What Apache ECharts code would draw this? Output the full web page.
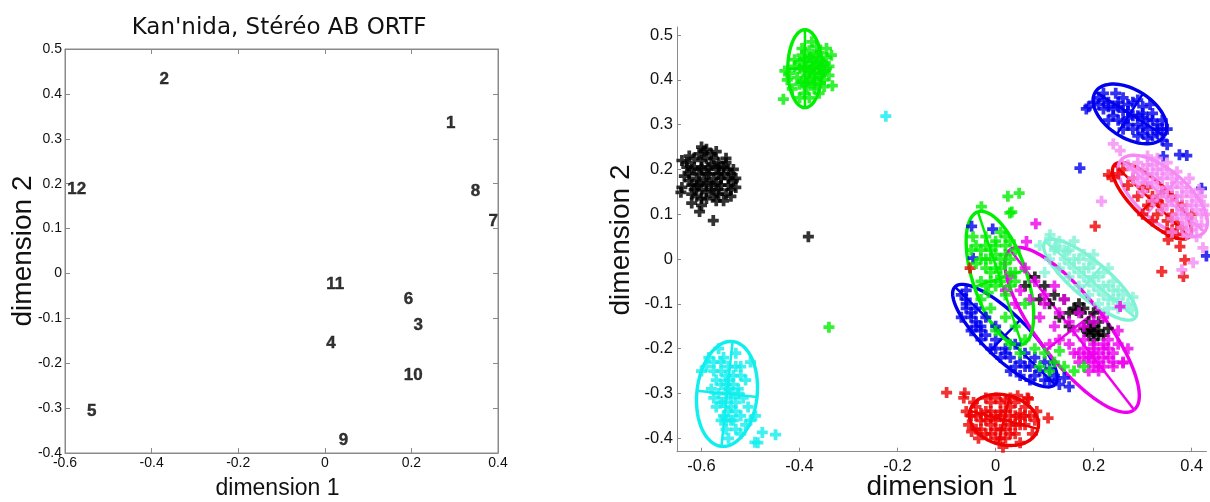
<!DOCTYPE html>
<html><head><meta charset="utf-8">
<script src="https://cdn.jsdelivr.net/npm/echarts@6/dist/echarts.min.js"></script>
<style>html,body{margin:0;padding:0;background:#fff}#c{width:1210px;height:502px}</style>
</head><body><div id="c"></div>
<script>
// ---------- Left panel: labelled configuration ----------
const leftNames = ['1','2','3','4','5','6','7','8','9','10','11','12'];
const leftDim1 = [0.291,-0.371,0.216,0.014,-0.538,0.193,0.389,0.348,0.043,0.204,0.024,-0.573];
const leftDim2 = [0.335,0.432,-0.116,-0.155,-0.307,-0.058,0.116,0.183,-0.372,-0.228,-0.025,0.187];

// ---------- Right panel: clouds of points (dimension 1, dimension 2) ----------
const blackLeft = [[-0.585,0.19],[-0.6,0.2],[-0.57,0.2],[-0.61,0.18],[-0.56,0.18],[-0.59,0.17],[-0.62,0.2],[-0.6,0.22],[-0.575,0.225],[-0.555,0.205],[-0.54,0.19],[-0.545,0.165],[-0.565,0.155],[-0.59,0.15],[-0.615,0.155],[-0.625,0.175],[-0.63,0.205],[-0.615,0.225],[-0.595,0.24],[-0.57,0.24],[-0.55,0.225],[-0.535,0.175],[-0.53,0.16],[-0.55,0.145],[-0.575,0.14],[-0.6,0.135],[-0.605,0.165],[-0.58,0.165],[-0.565,0.19],[-0.6,0.205],[-0.58,0.21],[-0.61,0.14],[-0.62,0.125],[-0.64,0.22],[-0.6,0.25],[-0.59,0.245],[-0.642,0.149],[-0.604,0.106],[-0.576,0.086],[-0.6,0.12],[-0.53,0.18],[-0.545,0.2],[-0.635,0.185],[-0.64,0.16],[-0.62,0.145],[-0.382,0.05],
  [-0.59,0.19],[-0.575,0.18],[-0.595,0.175],[-0.585,0.205],[-0.605,0.19],[-0.565,0.205],[-0.57,0.17],[-0.555,0.19],[-0.615,0.205],[-0.61,0.165],[-0.58,0.155],[-0.6,0.155],[-0.56,0.165],[-0.545,0.18],[-0.59,0.225],[-0.605,0.235],[-0.58,0.235],[-0.565,0.215],[-0.625,0.19],[-0.62,0.165],[-0.59,0.135],[-0.565,0.145],[-0.54,0.155],[-0.535,0.2],[-0.55,0.215],[-0.63,0.215],[-0.57,0.13],[-0.555,0.13],[-0.54,0.14],[-0.625,0.23]];
const greenTop = [[-0.39,0.42],[-0.37,0.43],[-0.38,0.40],[-0.36,0.41],[-0.4,0.44],[-0.375,0.45],[-0.355,0.44],[-0.35,0.42],[-0.365,0.395],[-0.385,0.385],[-0.405,0.405],[-0.41,0.43],[-0.395,0.455],[-0.38,0.465],[-0.36,0.46],[-0.345,0.45],[-0.34,0.43],[-0.35,0.40],[-0.37,0.38],[-0.39,0.37],[-0.4,0.39],[-0.42,0.415],[-0.425,0.4],[-0.385,0.43],[-0.37,0.415],[-0.355,0.43],[-0.395,0.47],[-0.365,0.475],[-0.345,0.47],[-0.335,0.455],[-0.38,0.36],[-0.36,0.37],[-0.415,0.38],[-0.433,0.357],[-0.333,0.387],[-0.375,0.485],[-0.4,0.36],[-0.35,0.385],[-0.34,0.41],[-0.43,0.42],[-0.34,-0.152],
  [-0.38,0.42],[-0.39,0.43],[-0.37,0.405],[-0.36,0.425],[-0.375,0.44],[-0.385,0.41],[-0.395,0.395],[-0.365,0.455],[-0.35,0.435],[-0.38,0.45],[-0.39,0.445],[-0.37,0.39],[-0.355,0.415],[-0.4,0.425],[-0.41,0.445],[-0.345,0.425],[-0.36,0.445],[-0.385,0.395],[-0.375,0.425],[-0.365,0.435]];
const cyanLeft = [[-0.55,-0.28],[-0.54,-0.3],[-0.555,-0.32],[-0.545,-0.34],[-0.535,-0.26],[-0.56,-0.25],[-0.57,-0.27],[-0.575,-0.23],[-0.555,-0.22],[-0.565,-0.2],[-0.59,-0.24],[-0.6,-0.25],[-0.585,-0.22],[-0.52,-0.24],[-0.51,-0.27],[-0.525,-0.29],[-0.53,-0.32],[-0.52,-0.35],[-0.54,-0.36],[-0.55,-0.38],[-0.53,-0.38],[-0.51,-0.37],[-0.5,-0.36],[-0.515,-0.31],[-0.565,-0.3],[-0.57,-0.33],[-0.58,-0.29],[-0.545,-0.24],[-0.53,-0.21],[-0.5,-0.23],[-0.505,-0.33],[-0.49,-0.35],[-0.545,-0.4],[-0.52,-0.39],[-0.56,-0.36],[-0.449,-0.392],[-0.476,-0.387],[-0.491,-0.409],[-0.485,-0.41],[-0.575,-0.31],[-0.224,0.319],
  [-0.55,-0.3],[-0.545,-0.29],[-0.54,-0.31],[-0.55,-0.26],[-0.56,-0.28],[-0.535,-0.28],[-0.54,-0.33],[-0.555,-0.35],[-0.53,-0.34],[-0.56,-0.23],[-0.545,-0.27],[-0.525,-0.3],[-0.535,-0.36],[-0.55,-0.36],[-0.56,-0.32],[-0.575,-0.25],[-0.52,-0.26],[-0.53,-0.24]];
const blueTop = [[0.27,0.33],[0.25,0.34],[0.29,0.32],[0.23,0.35],[0.21,0.36],[0.31,0.31],[0.33,0.3],[0.28,0.35],[0.26,0.36],[0.24,0.32],[0.3,0.34],[0.32,0.325],[0.34,0.31],[0.35,0.29],[0.33,0.28],[0.3,0.295],[0.27,0.3],[0.25,0.31],[0.22,0.335],[0.2,0.35],[0.19,0.34],[0.185,0.335],[0.22,0.37],[0.245,0.37],[0.29,0.355],[0.315,0.345],[0.34,0.265],[0.31,0.27],[0.29,0.275],[0.35,0.255],[0.27,0.315],[0.23,0.31],[0.26,0.29],[0.3,0.315],[0.172,0.203],[0.342,0.229],[0.375,0.233],[0.39,0.231],[0.42,0.158],[0.43,0.007],[-0.049,0.073],[-0.006,0.067],[-0.046,0.002],
  [0.26,0.33],[0.28,0.32],[0.3,0.325],[0.25,0.35],[0.27,0.345],[0.32,0.31],[0.29,0.3],[0.24,0.335],[0.23,0.34],[0.31,0.29],[0.33,0.29],[0.26,0.305],[0.28,0.29],[0.21,0.345],[0.22,0.355],[0.3,0.28],[0.32,0.275],[0.34,0.29]];
const redRight = [[0.3,0.16],[0.28,0.18],[0.26,0.2],[0.32,0.14],[0.34,0.12],[0.36,0.1],[0.37,0.08],[0.38,0.07],[0.36,0.065],[0.35,0.085],[0.33,0.1],[0.31,0.12],[0.29,0.14],[0.27,0.165],[0.25,0.19],[0.3,0.1],[0.32,0.085],[0.35,0.06],[0.37,0.055],[0.33,0.13],[0.31,0.16],[0.4,0.1],[0.38,0.12],[0.34,0.15],[0.36,0.14],[0.23,0.188],[0.237,0.184],[0.203,0.073],[0.352,0.043],[0.376,0.028],[0.386,-0.002],[0.339,-0.028],[0.383,-0.039],[-0.052,-0.02]];
const violetRight = [[0.34,0.15],[0.32,0.17],[0.36,0.13],[0.3,0.18],[0.28,0.2],[0.38,0.11],[0.4,0.09],[0.42,0.1],[0.41,0.13],[0.39,0.15],[0.37,0.17],[0.35,0.19],[0.33,0.2],[0.31,0.21],[0.29,0.215],[0.27,0.21],[0.3,0.15],[0.32,0.13],[0.34,0.11],[0.36,0.09],[0.38,0.07],[0.4,0.065],[0.42,0.075],[0.425,0.12],[0.415,0.155],[0.395,0.18],[0.37,0.195],[0.35,0.215],[0.33,0.225],[0.31,0.23],[0.35,0.16],[0.37,0.14],[0.39,0.12],[0.33,0.18],[0.31,0.19],[0.29,0.17],[0.28,0.18],[0.36,0.06],[0.39,0.055],[0.41,0.05],[0.24,0.257],[0.254,0.242],[0.216,0.129],[0.423,0.025],[0.403,-0.008],[0.38,-0.024],[0.43,0.1],
  [0.35,0.14],[0.33,0.16],[0.37,0.12],[0.39,0.1],[0.4,0.12],[0.38,0.14],[0.36,0.16],[0.34,0.18],[0.32,0.19],[0.3,0.2],[0.32,0.21],[0.34,0.2],[0.36,0.18],[0.38,0.16],[0.4,0.14],[0.41,0.11],[0.39,0.08],[0.37,0.1],[0.35,0.12],[0.33,0.14],[0.31,0.17],[0.29,0.195],[0.41,0.075],[0.38,0.09],[0.42,0.14]];
const redBottom = [[0.0,-0.35],[0.02,-0.36],[-0.02,-0.34],[0.04,-0.35],[0.01,-0.38],[-0.01,-0.37],[0.03,-0.33],[0.05,-0.37],[-0.03,-0.36],[-0.04,-0.33],[-0.02,-0.31],[0.0,-0.31],[0.02,-0.315],[0.04,-0.32],[0.06,-0.33],[0.07,-0.35],[0.06,-0.37],[0.04,-0.39],[0.02,-0.4],[0.0,-0.4],[-0.02,-0.39],[-0.04,-0.38],[-0.05,-0.35],[-0.045,-0.32],[0.01,-0.34],[0.03,-0.37],[-0.01,-0.355],[0.05,-0.345],[0.015,-0.42],[0.05,-0.41],[0.075,-0.39],[0.08,-0.36],[-0.035,-0.4],[-0.055,-0.37],[-0.06,-0.34],[-0.065,-0.31],[0.045,-0.305],[0.065,-0.31],[-0.1,-0.298],[-0.063,-0.299],[0.067,-0.312],[0.084,-0.34],[0.107,-0.355],[-0.049,-0.385],
  [0.0,-0.36],[0.01,-0.35],[0.02,-0.34],[0.03,-0.35],[-0.01,-0.34],[-0.03,-0.345],[-0.02,-0.36],[0.0,-0.38],[0.02,-0.38],[0.04,-0.37],[0.05,-0.355],[0.03,-0.39],[-0.01,-0.39],[-0.03,-0.38],[0.01,-0.32],[-0.01,-0.32],[0.03,-0.31],[0.06,-0.35],[-0.04,-0.35],[0.01,-0.4]];
const aquaCentre = [[0.12,0.02],[0.14,0.0],[0.16,-0.02],[0.18,-0.04],[0.2,-0.06],[0.22,-0.08],[0.24,-0.09],[0.15,0.02],[0.17,0.0],[0.19,-0.02],[0.21,-0.04],[0.23,-0.06],[0.25,-0.07],[0.13,-0.02],[0.15,-0.04],[0.17,-0.06],[0.19,-0.08],[0.21,-0.1],[0.23,-0.11],[0.11,0.0],[0.18,0.01],[0.2,-0.01],[0.22,-0.03],[0.24,-0.05],[0.26,-0.08],[0.27,-0.1],[0.11,0.045],[0.09,0.03],[0.13,0.04],[0.16,0.04],[0.2,0.01],[0.28,-0.085],[0.25,-0.11],[0.1,-0.03],[0.111,0.054],[0.121,0.025],[0.145,0.017],[0.192,-0.002],[0.23,-0.02],[0.278,-0.113],[0.124,0.028],
  [0.16,0.0],[0.18,-0.02],[0.2,-0.04],[0.22,-0.06],[0.24,-0.07],[0.14,0.02],[0.19,-0.05],[0.21,-0.07],[0.23,-0.09],[0.17,-0.03],[0.15,-0.01],[0.25,-0.09]];
const blackCentre = [[0.17,-0.1],[0.16,-0.11],[0.18,-0.11],[0.175,-0.12],[0.15,-0.12],[0.19,-0.14],[0.2,-0.15],[0.21,-0.16],[0.19,-0.17],[0.22,-0.17],[0.2,-0.18],[0.18,-0.155],[0.21,-0.14],[0.14,-0.09],[0.12,-0.08],[0.1,-0.06],[0.08,-0.04],[0.11,-0.1],[0.13,-0.13],[0.15,-0.15],[0.23,-0.155],[0.09,-0.09],[0.06,-0.06],[0.2,-0.12],[0.185,-0.16],[0.2,-0.165],[0.195,-0.155],[0.165,-0.115],[0.21,-0.17]];
const blueCentre = [[-0.07,-0.08],[-0.06,-0.1],[-0.05,-0.12],[-0.07,-0.13],[-0.04,-0.14],[-0.03,-0.15],[-0.05,-0.16],[-0.02,-0.17],[0.0,-0.18],[-0.01,-0.2],[0.02,-0.2],[0.03,-0.22],[0.05,-0.23],[0.06,-0.21],[0.07,-0.24],[0.09,-0.25],[0.1,-0.27],[0.12,-0.26],[0.13,-0.28],[0.11,-0.245],[0.04,-0.19],[0.01,-0.22],[-0.03,-0.18],[-0.06,-0.09],[-0.04,-0.11],[0.08,-0.22],[0.14,-0.265],[0.1,-0.23],[-0.02,-0.13],[0.0,-0.15],[0.05,-0.26],[0.07,-0.27],[0.03,-0.25],[-0.06,-0.07],[0.15,-0.285],
  [-0.05,-0.13],[-0.03,-0.16],[0.0,-0.2],[0.02,-0.21],[0.06,-0.24],[0.08,-0.26],[0.11,-0.27],[-0.06,-0.11],[-0.04,-0.15],[0.04,-0.24]];
const magentaCentre = [[0.2,-0.21],[0.22,-0.2],[0.21,-0.23],[0.19,-0.22],[0.23,-0.22],[0.18,-0.2],[0.2,-0.19],[0.22,-0.24],[0.24,-0.21],[0.17,-0.23],[0.19,-0.25],[0.21,-0.25],[0.16,-0.21],[0.23,-0.18],[0.25,-0.19],[0.24,-0.24],[0.18,-0.18],[0.15,-0.19],[0.1,-0.08],[0.08,-0.05],[0.06,-0.02],[0.12,-0.06],[0.1,-0.1],[0.13,-0.12],[0.15,-0.14],[0.12,-0.15],[0.09,-0.13],[0.07,-0.09],[0.05,-0.07],[0.14,-0.09],[0.17,-0.12],[0.18,-0.15],[0.16,-0.16],[0.2,-0.14],[0.22,-0.13],[0.25,-0.16],[0.27,-0.2],[0.26,-0.23],[0.11,-0.19],[0.13,-0.18],[0.03,-0.04],[0.02,-0.07],[0.04,-0.1],[0.082,0.079],[0.063,0.039],[0.254,-0.106],[0.26,-0.232],
  [0.2,-0.22],[0.21,-0.21],[0.19,-0.21],[0.22,-0.22],[0.21,-0.24],[0.2,-0.2],[0.18,-0.22],[0.23,-0.2],[0.22,-0.19],[0.19,-0.23],[0.2,-0.24],[0.17,-0.21],[0.24,-0.23]];
const greenCentre = [[-0.02,0.0],[0.0,0.01],[0.02,-0.01],[-0.01,-0.03],[0.01,-0.04],[-0.03,0.02],[0.0,0.04],[0.02,0.03],[-0.02,0.05],[0.03,0.0],[0.04,-0.03],[0.01,0.06],[-0.04,-0.01],[-0.03,-0.05],[0.0,-0.06],[0.03,-0.06],[-0.01,0.02],[0.01,-0.02],[-0.04,0.03],[0.04,0.02],[-0.015,-0.075],[0.02,-0.08],[-0.029,0.117],[0.029,0.103],[0.025,0.14],[0.048,0.147],[0.033,0.105],[-0.046,0.05],[-0.05,0.02],[-0.01,-0.11],[0.02,-0.13],[0.04,-0.15],[0.06,-0.18],[0.03,-0.19],[0.0,-0.16],[0.08,-0.2],[0.1,-0.21],[0.12,-0.23],[0.14,-0.24],[0.16,-0.25],[0.18,-0.24],[0.11,-0.25],[0.13,-0.205],[0.09,-0.24],[0.05,-0.21],[-0.03,-0.09],[0.06,-0.1],
  [-0.01,0.0],[0.01,0.0],[0.0,-0.02],[-0.02,-0.02],[0.02,0.01],[0.0,0.03],[-0.02,0.03],[0.03,-0.03],[0.01,-0.05],[-0.01,-0.05],[-0.03,0.0],[0.02,0.05],[0.03,0.04],[0.04,-0.05],[-0.02,-0.06]];

// ellipse parameters: [centre d1, centre d2, half-axis 1 (d1,d2), half-axis 2 (d1,d2)]
const ellGreenTop = [-0.389,0.425,0.0,0.087,0.035,0.0];
const ellCyanLeft = [-0.548,-0.301,0.0114,0.117,0.0612,-0.0071];
const ellBlueTop = [0.274,0.324,0.0704,-0.0491,-0.0263,-0.0451];
const ellRedRight = [0.319,0.130,0.0765,-0.0804,-0.0255,-0.029];
const ellVioletRight = [0.341,0.141,0.0847,-0.0804,-0.0335,-0.0422];
const ellRedBottom = [0.017,-0.359,0.0694,-0.0201,-0.0122,-0.0536];
const ellAquaCentre = [0.193,-0.046,0.092,-0.085,0.0237,0.0308];
const ellBlueCentre = [0.019,-0.171,0.102,-0.109,-0.0314,-0.035];
const ellMagentaCentre = [0.156,-0.158,0.1265,-0.1786,0.0531,0.0451];
const ellGreenCentre = [0.0088,-0.043,0.0449,-0.1484,0.0523,0.019];

const rightXTicks = [-0.6,-0.4,-0.2,0,0.2,0.4];
const rightYTicks = [-0.4,-0.3,-0.2,-0.1,0,0.1,0.2,0.3,0.4,0.5];

const clusters = [
  {pts: blackLeft, ell: null, color: '#000000'},
  {pts: greenTop, ell: ellGreenTop, color: '#00ee00'},
  {pts: cyanLeft, ell: ellCyanLeft, color: '#10eeee'},
  {pts: blueTop, ell: ellBlueTop, color: '#0000ee'},
  {pts: redRight, ell: ellRedRight, color: '#ee0000'},
  {pts: violetRight, ell: ellVioletRight, color: '#f58af5'},
  {pts: redBottom, ell: ellRedBottom, color: '#ee0000'},
  {pts: aquaCentre, ell: ellAquaCentre, color: '#80f2d4'},
  {pts: blackCentre, ell: null, color: '#000000'},
  {pts: blueCentre, ell: ellBlueCentre, color: '#0000ee'},
  {pts: magentaCentre, ell: ellMagentaCentre, color: '#ee00ee'},
  {pts: greenCentre, ell: ellGreenCentre, color: '#00ee00'}
];

const plusPath = 'path://M0,3.3H10V6.7H0Z M3.3,0H6.7V10H3.3Z';
const FONT = 'Liberation Sans, Arial, sans-serif';

function ellipseRenderer(color) {
  return function (params, api) {
    const cx = api.value(0), cy = api.value(1), ux = api.value(2), uy = api.value(3), vx = api.value(4), vy = api.value(5);
    const pts = [];
    for (let k = 0; k <= 90; k++) {
      const t = k / 90 * 2 * Math.PI;
      pts.push(api.coord([cx + Math.cos(t) * ux + Math.sin(t) * vx, cy + Math.cos(t) * uy + Math.sin(t) * vy]));
    }
    const a1 = api.coord([cx - ux, cy - uy]), a2 = api.coord([cx + ux, cy + uy]);
    const b1 = api.coord([cx - vx, cy - vy]), b2 = api.coord([cx + vx, cy + vy]);
    const st = {stroke: color, fill: null, lineWidth: 3.4};
    return {type: 'group', children: [
      {type: 'polyline', shape: {points: pts}, style: st},
      {type: 'line', shape: {x1: a1[0], y1: a1[1], x2: a2[0], y2: a2[1]}, style: {stroke: color, lineWidth: 2.5}},
      {type: 'line', shape: {x1: b1[0], y1: b1[1], x2: b2[0], y2: b2[1]}, style: {stroke: color, lineWidth: 2.5}}
    ]};
  };
}

const series = [];
series.push({
  type: 'scatter', xAxisIndex: 0, yAxisIndex: 0, symbolSize: 1,
  itemStyle: {color: 'rgba(0,0,0,0)'},
  data: leftNames.map((n, i) => [leftDim1[i], leftDim2[i], n]),
  label: {show: true, position: 'inside', formatter: p => p.value[2], fontFamily: FONT, fontWeight: 'bold', fontSize: 17, color: '#000', textBorderColor: '#000', textBorderWidth: 0.4}
});
clusters.forEach(c => {
  series.push({type: 'scatter', xAxisIndex: 2, yAxisIndex: 2, symbol: plusPath, symbolSize: 11, clip: false,
    itemStyle: {color: c.color}, data: c.pts});
  if (c.ell) {
    series.push({type: 'custom', xAxisIndex: 2, yAxisIndex: 2, renderItem: ellipseRenderer(c.color),
      data: [c.ell], encode: {x: 0, y: 1}});
  }
});

const grey = '#8a8a8a';
const leftLbl = {fontFamily: FONT, fontSize: 14, color: '#111'};
const rightLbl = {fontFamily: FONT, fontSize: 16.5, color: '#111'};
const line = {onZero: false, lineStyle: {color: grey}};

const option = {
  animation: false,
  backgroundColor: '#ffffff',
  grid: [
    {left: 65, top: 49, width: 433, height: 404, show: true, borderColor: grey, borderWidth: 1, backgroundColor: 'transparent'},
    {left: 677, top: 27, width: 529.4, height: 424.7}
  ],
  xAxis: [
    {gridIndex: 0, type: 'value', min: -0.6, max: 0.4, interval: 0.2, position: 'bottom',
      axisLine: line, axisTick: {inside: true, length: 5, lineStyle: {color: grey}},
      splitLine: {show: false}, axisLabel: Object.assign({margin: 3}, leftLbl)},
    {gridIndex: 0, type: 'value', min: -0.6, max: 0.4, interval: 0.2, position: 'top',
      axisLine: line, axisTick: {inside: true, length: 5, lineStyle: {color: grey}},
      splitLine: {show: false}, axisLabel: {show: false}},
    {gridIndex: 1, type: 'value', min: -0.65, max: 0.43, position: 'bottom',
      axisLine: line, axisTick: {inside: true, length: 4, lineStyle: {color: grey}, customValues: rightXTicks},
      splitLine: {show: false}, axisLabel: Object.assign({margin: 6, customValues: rightXTicks}, rightLbl)}
  ],
  yAxis: [
    {gridIndex: 0, type: 'value', min: -0.4, max: 0.5, interval: 0.1, position: 'left',
      axisLine: line, axisTick: {inside: true, length: 5, lineStyle: {color: grey}},
      splitLine: {show: false}, axisLabel: Object.assign({margin: 3}, leftLbl)},
    {gridIndex: 0, type: 'value', min: -0.4, max: 0.5, interval: 0.1, position: 'right',
      axisLine: line, axisTick: {inside: true, length: 5, lineStyle: {color: grey}},
      splitLine: {show: false}, axisLabel: {show: false}},
    {gridIndex: 1, type: 'value', min: -0.43, max: 0.518, position: 'left',
      axisLine: line, axisTick: {inside: true, length: 4, lineStyle: {color: grey}, customValues: rightYTicks},
      splitLine: {show: false}, axisLabel: Object.assign({margin: 4, customValues: rightYTicks}, rightLbl)}
  ],
  graphic: [
    {type: 'text', x: 279, y: 28, style: {text: "Kan'nida, Stéréo AB ORTF", font: '23px "DejaVu Sans"', fill: '#111', align: 'center', verticalAlign: 'middle'}},
    {type: 'text', x: 277.5, y: 488.5, style: {text: 'dimension 1', font: '23px "Liberation Sans"', fill: '#111', align: 'center', verticalAlign: 'middle'}},
    {type: 'text', x: 23, y: 251, rotation: Math.PI / 2, style: {text: 'dimension 2', font: '28px "Liberation Sans"', fill: '#111', align: 'center', verticalAlign: 'middle'}},
    {type: 'text', x: 942, y: 487.5, style: {text: 'dimension 1', font: '28px "Liberation Sans"', fill: '#111', align: 'center', verticalAlign: 'middle'}},
    {type: 'text', x: 621.5, y: 240, rotation: Math.PI / 2, style: {text: 'dimension 2', font: '28px "Liberation Sans"', fill: '#111', align: 'center', verticalAlign: 'middle'}}
  ],
  series: series
};

const chart = echarts.init(document.getElementById('c'), null, {renderer: 'canvas'});
chart.setOption(option);
</script>
</body></html>
